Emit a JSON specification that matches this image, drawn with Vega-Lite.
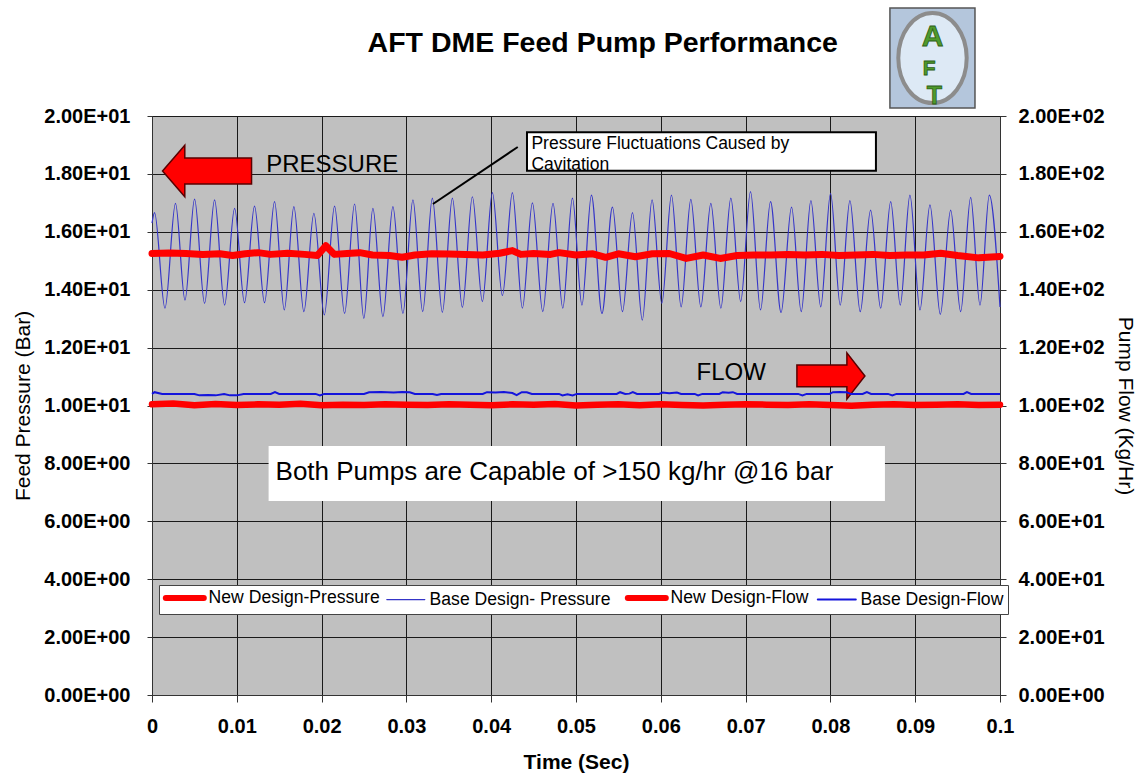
{
  "$schema": "https://vega.github.io/schema/vega-lite/v6.json",
  "width": 848,
  "height": 579,
  "autosize": {"type": "none"},
  "padding": {"left": 152, "top": 116, "right": 143, "bottom": 79},
  "background": "#ffffff",
  "config": {
    "font": "Liberation Sans",
    "view": {"fill": "#c0c0c0", "stroke": "#444444", "strokeWidth": 1}
  },
  "datasets": {
    "lines": [
      {"series": "Base Design- Pressure", "t": 0, "value": 16.3},
      {"series": "Base Design- Pressure", "t": 0.0003, "value": 16.66},
      {"series": "Base Design- Pressure", "t": 0.00153, "value": 13.36},
      {"series": "Base Design- Pressure", "t": 0.00277, "value": 16.98},
      {"series": "Base Design- Pressure", "t": 0.00389, "value": 13.64},
      {"series": "Base Design- Pressure", "t": 0.00502, "value": 17.13},
      {"series": "Base Design- Pressure", "t": 0.0062, "value": 13.53},
      {"series": "Base Design- Pressure", "t": 0.00738, "value": 17.1},
      {"series": "Base Design- Pressure", "t": 0.00856, "value": 13.47},
      {"series": "Base Design- Pressure", "t": 0.00974, "value": 16.81},
      {"series": "Base Design- Pressure", "t": 0.01091, "value": 13.55},
      {"series": "Base Design- Pressure", "t": 0.01209, "value": 16.89},
      {"series": "Base Design- Pressure", "t": 0.01327, "value": 13.55},
      {"series": "Base Design- Pressure", "t": 0.01445, "value": 17.04},
      {"series": "Base Design- Pressure", "t": 0.0156, "value": 13.3},
      {"series": "Base Design- Pressure", "t": 0.01673, "value": 16.87},
      {"series": "Base Design- Pressure", "t": 0.01791, "value": 13.24},
      {"series": "Base Design- Pressure", "t": 0.01909, "value": 16.64},
      {"series": "Base Design- Pressure", "t": 0.02032, "value": 13.13},
      {"series": "Base Design- Pressure", "t": 0.02153, "value": 16.89},
      {"series": "Base Design- Pressure", "t": 0.02271, "value": 13.18},
      {"series": "Base Design- Pressure", "t": 0.02389, "value": 16.96},
      {"series": "Base Design- Pressure", "t": 0.02498, "value": 13.01},
      {"series": "Base Design- Pressure", "t": 0.02605, "value": 16.81},
      {"series": "Base Design- Pressure", "t": 0.02723, "value": 13.07},
      {"series": "Base Design- Pressure", "t": 0.02841, "value": 16.87},
      {"series": "Base Design- Pressure", "t": 0.02959, "value": 13.18},
      {"series": "Base Design- Pressure", "t": 0.03077, "value": 17.1},
      {"series": "Base Design- Pressure", "t": 0.03192, "value": 13.24},
      {"series": "Base Design- Pressure", "t": 0.03306, "value": 17.16},
      {"series": "Base Design- Pressure", "t": 0.03424, "value": 13.22},
      {"series": "Base Design- Pressure", "t": 0.03542, "value": 17.16},
      {"series": "Base Design- Pressure", "t": 0.0366, "value": 13.39},
      {"series": "Base Design- Pressure", "t": 0.03778, "value": 17.21},
      {"series": "Base Design- Pressure", "t": 0.03896, "value": 13.59},
      {"series": "Base Design- Pressure", "t": 0.04014, "value": 17.35},
      {"series": "Base Design- Pressure", "t": 0.04132, "value": 13.8},
      {"series": "Base Design- Pressure", "t": 0.0425, "value": 17.35},
      {"series": "Base Design- Pressure", "t": 0.04368, "value": 13.36},
      {"series": "Base Design- Pressure", "t": 0.04486, "value": 17.0},
      {"series": "Base Design- Pressure", "t": 0.04608, "value": 13.24},
      {"series": "Base Design- Pressure", "t": 0.04729, "value": 16.98},
      {"series": "Base Design- Pressure", "t": 0.04844, "value": 13.36},
      {"series": "Base Design- Pressure", "t": 0.04958, "value": 17.16},
      {"series": "Base Design- Pressure", "t": 0.0507, "value": 13.47},
      {"series": "Base Design- Pressure", "t": 0.05182, "value": 17.27},
      {"series": "Base Design- Pressure", "t": 0.05306, "value": 13.18},
      {"series": "Base Design- Pressure", "t": 0.0543, "value": 16.85},
      {"series": "Base Design- Pressure", "t": 0.05548, "value": 13.24},
      {"series": "Base Design- Pressure", "t": 0.05666, "value": 16.66},
      {"series": "Base Design- Pressure", "t": 0.05782, "value": 12.95},
      {"series": "Base Design- Pressure", "t": 0.05897, "value": 17.1},
      {"series": "Base Design- Pressure", "t": 0.06012, "value": 13.53},
      {"series": "Base Design- Pressure", "t": 0.06126, "value": 17.27},
      {"series": "Base Design- Pressure", "t": 0.0624, "value": 13.41},
      {"series": "Base Design- Pressure", "t": 0.06354, "value": 17.12},
      {"series": "Base Design- Pressure", "t": 0.06472, "value": 13.41},
      {"series": "Base Design- Pressure", "t": 0.0659, "value": 16.98},
      {"series": "Base Design- Pressure", "t": 0.06708, "value": 13.36},
      {"series": "Base Design- Pressure", "t": 0.06826, "value": 17.16},
      {"series": "Base Design- Pressure", "t": 0.06942, "value": 13.59},
      {"series": "Base Design- Pressure", "t": 0.07058, "value": 17.39},
      {"series": "Base Design- Pressure", "t": 0.07176, "value": 13.3},
      {"series": "Base Design- Pressure", "t": 0.07294, "value": 17.04},
      {"series": "Base Design- Pressure", "t": 0.07418, "value": 13.21},
      {"series": "Base Design- Pressure", "t": 0.07542, "value": 16.85},
      {"series": "Base Design- Pressure", "t": 0.07656, "value": 13.24},
      {"series": "Base Design- Pressure", "t": 0.0777, "value": 17.08},
      {"series": "Base Design- Pressure", "t": 0.07886, "value": 13.41},
      {"series": "Base Design- Pressure", "t": 0.08002, "value": 17.33},
      {"series": "Base Design- Pressure", "t": 0.08116, "value": 13.47},
      {"series": "Base Design- Pressure", "t": 0.0823, "value": 17.08},
      {"series": "Base Design- Pressure", "t": 0.08352, "value": 13.24},
      {"series": "Base Design- Pressure", "t": 0.08474, "value": 16.75},
      {"series": "Base Design- Pressure", "t": 0.08593, "value": 13.36},
      {"series": "Base Design- Pressure", "t": 0.08711, "value": 17.04},
      {"series": "Base Design- Pressure", "t": 0.08824, "value": 13.47},
      {"series": "Base Design- Pressure", "t": 0.08938, "value": 17.27},
      {"series": "Base Design- Pressure", "t": 0.09056, "value": 13.3},
      {"series": "Base Design- Pressure", "t": 0.09174, "value": 16.93},
      {"series": "Base Design- Pressure", "t": 0.09296, "value": 13.15},
      {"series": "Base Design- Pressure", "t": 0.09418, "value": 16.75},
      {"series": "Base Design- Pressure", "t": 0.09536, "value": 13.24},
      {"series": "Base Design- Pressure", "t": 0.09654, "value": 17.19},
      {"series": "Base Design- Pressure", "t": 0.09764, "value": 13.47},
      {"series": "Base Design- Pressure", "t": 0.09874, "value": 17.27},
      {"series": "Base Design- Pressure", "t": 0.1, "value": 13.4},

      {"series": "New Design-Pressure", "t": 0, "value": 15.25},
      {"series": "New Design-Pressure", "t": 0.002, "value": 15.27},
      {"series": "New Design-Pressure", "t": 0.004, "value": 15.25},
      {"series": "New Design-Pressure", "t": 0.006, "value": 15.22},
      {"series": "New Design-Pressure", "t": 0.008, "value": 15.24},
      {"series": "New Design-Pressure", "t": 0.0095, "value": 15.18},
      {"series": "New Design-Pressure", "t": 0.011, "value": 15.24},
      {"series": "New Design-Pressure", "t": 0.0125, "value": 15.28},
      {"series": "New Design-Pressure", "t": 0.014, "value": 15.22},
      {"series": "New Design-Pressure", "t": 0.016, "value": 15.26},
      {"series": "New Design-Pressure", "t": 0.018, "value": 15.22},
      {"series": "New Design-Pressure", "t": 0.0195, "value": 15.18},
      {"series": "New Design-Pressure", "t": 0.0205, "value": 15.52},
      {"series": "New Design-Pressure", "t": 0.0215, "value": 15.22},
      {"series": "New Design-Pressure", "t": 0.023, "value": 15.25},
      {"series": "New Design-Pressure", "t": 0.0245, "value": 15.28},
      {"series": "New Design-Pressure", "t": 0.026, "value": 15.2},
      {"series": "New Design-Pressure", "t": 0.028, "value": 15.18},
      {"series": "New Design-Pressure", "t": 0.0295, "value": 15.12},
      {"series": "New Design-Pressure", "t": 0.031, "value": 15.2},
      {"series": "New Design-Pressure", "t": 0.033, "value": 15.24},
      {"series": "New Design-Pressure", "t": 0.035, "value": 15.23},
      {"series": "New Design-Pressure", "t": 0.037, "value": 15.22},
      {"series": "New Design-Pressure", "t": 0.039, "value": 15.2},
      {"series": "New Design-Pressure", "t": 0.041, "value": 15.26},
      {"series": "New Design-Pressure", "t": 0.0425, "value": 15.35},
      {"series": "New Design-Pressure", "t": 0.0435, "value": 15.22},
      {"series": "New Design-Pressure", "t": 0.045, "value": 15.25},
      {"series": "New Design-Pressure", "t": 0.047, "value": 15.22},
      {"series": "New Design-Pressure", "t": 0.048, "value": 15.28},
      {"series": "New Design-Pressure", "t": 0.05, "value": 15.2},
      {"series": "New Design-Pressure", "t": 0.052, "value": 15.24},
      {"series": "New Design-Pressure", "t": 0.0535, "value": 15.12},
      {"series": "New Design-Pressure", "t": 0.055, "value": 15.24},
      {"series": "New Design-Pressure", "t": 0.057, "value": 15.14},
      {"series": "New Design-Pressure", "t": 0.059, "value": 15.24},
      {"series": "New Design-Pressure", "t": 0.061, "value": 15.25},
      {"series": "New Design-Pressure", "t": 0.063, "value": 15.08},
      {"series": "New Design-Pressure", "t": 0.065, "value": 15.2},
      {"series": "New Design-Pressure", "t": 0.067, "value": 15.08},
      {"series": "New Design-Pressure", "t": 0.069, "value": 15.18},
      {"series": "New Design-Pressure", "t": 0.071, "value": 15.2},
      {"series": "New Design-Pressure", "t": 0.073, "value": 15.2},
      {"series": "New Design-Pressure", "t": 0.075, "value": 15.22},
      {"series": "New Design-Pressure", "t": 0.077, "value": 15.2},
      {"series": "New Design-Pressure", "t": 0.079, "value": 15.22},
      {"series": "New Design-Pressure", "t": 0.081, "value": 15.18},
      {"series": "New Design-Pressure", "t": 0.083, "value": 15.2},
      {"series": "New Design-Pressure", "t": 0.085, "value": 15.22},
      {"series": "New Design-Pressure", "t": 0.087, "value": 15.18},
      {"series": "New Design-Pressure", "t": 0.089, "value": 15.2},
      {"series": "New Design-Pressure", "t": 0.091, "value": 15.2},
      {"series": "New Design-Pressure", "t": 0.093, "value": 15.26},
      {"series": "New Design-Pressure", "t": 0.095, "value": 15.18},
      {"series": "New Design-Pressure", "t": 0.0975, "value": 15.1},
      {"series": "New Design-Pressure", "t": 0.1, "value": 15.15},

      {"series": "Base Design-Flow", "t": 0, "value": 104.0},
      {"series": "Base Design-Flow", "t": 0.0003, "value": 104.6},
      {"series": "Base Design-Flow", "t": 0.0012, "value": 104.0},
      {"series": "Base Design-Flow", "t": 0.005, "value": 104.0},
      {"series": "Base Design-Flow", "t": 0.0056, "value": 103.5},
      {"series": "Base Design-Flow", "t": 0.0066, "value": 103.6},
      {"series": "Base Design-Flow", "t": 0.0075, "value": 103.5},
      {"series": "Base Design-Flow", "t": 0.0085, "value": 104.0},
      {"series": "Base Design-Flow", "t": 0.0092, "value": 103.5},
      {"series": "Base Design-Flow", "t": 0.01, "value": 103.5},
      {"series": "Base Design-Flow", "t": 0.0108, "value": 104.0},
      {"series": "Base Design-Flow", "t": 0.014, "value": 104.0},
      {"series": "Base Design-Flow", "t": 0.0145, "value": 104.6},
      {"series": "Base Design-Flow", "t": 0.015, "value": 104.0},
      {"series": "Base Design-Flow", "t": 0.0193, "value": 104.0},
      {"series": "Base Design-Flow", "t": 0.0198, "value": 103.5},
      {"series": "Base Design-Flow", "t": 0.0203, "value": 104.0},
      {"series": "Base Design-Flow", "t": 0.025, "value": 104.0},
      {"series": "Base Design-Flow", "t": 0.0256, "value": 104.6},
      {"series": "Base Design-Flow", "t": 0.027, "value": 104.7},
      {"series": "Base Design-Flow", "t": 0.0285, "value": 104.5},
      {"series": "Base Design-Flow", "t": 0.0295, "value": 104.7},
      {"series": "Base Design-Flow", "t": 0.0304, "value": 104.6},
      {"series": "Base Design-Flow", "t": 0.031, "value": 104.0},
      {"series": "Base Design-Flow", "t": 0.0331, "value": 104.0},
      {"series": "Base Design-Flow", "t": 0.0336, "value": 103.6},
      {"series": "Base Design-Flow", "t": 0.0341, "value": 104.0},
      {"series": "Base Design-Flow", "t": 0.039, "value": 104.0},
      {"series": "Base Design-Flow", "t": 0.0395, "value": 104.6},
      {"series": "Base Design-Flow", "t": 0.0405, "value": 104.5},
      {"series": "Base Design-Flow", "t": 0.0415, "value": 104.7},
      {"series": "Base Design-Flow", "t": 0.0425, "value": 104.3},
      {"series": "Base Design-Flow", "t": 0.043, "value": 103.6},
      {"series": "Base Design-Flow", "t": 0.0436, "value": 104.6},
      {"series": "Base Design-Flow", "t": 0.0442, "value": 104.6},
      {"series": "Base Design-Flow", "t": 0.0448, "value": 104.0},
      {"series": "Base Design-Flow", "t": 0.048, "value": 104.0},
      {"series": "Base Design-Flow", "t": 0.0484, "value": 103.5},
      {"series": "Base Design-Flow", "t": 0.049, "value": 103.9},
      {"series": "Base Design-Flow", "t": 0.0496, "value": 103.5},
      {"series": "Base Design-Flow", "t": 0.0501, "value": 104.0},
      {"series": "Base Design-Flow", "t": 0.0548, "value": 104.0},
      {"series": "Base Design-Flow", "t": 0.0552, "value": 104.6},
      {"series": "Base Design-Flow", "t": 0.0558, "value": 104.0},
      {"series": "Base Design-Flow", "t": 0.0563, "value": 104.1},
      {"series": "Base Design-Flow", "t": 0.0567, "value": 104.6},
      {"series": "Base Design-Flow", "t": 0.0572, "value": 104.0},
      {"series": "Base Design-Flow", "t": 0.0598, "value": 104.0},
      {"series": "Base Design-Flow", "t": 0.0602, "value": 104.5},
      {"series": "Base Design-Flow", "t": 0.061, "value": 104.2},
      {"series": "Base Design-Flow", "t": 0.0619, "value": 104.5},
      {"series": "Base Design-Flow", "t": 0.0624, "value": 104.0},
      {"series": "Base Design-Flow", "t": 0.064, "value": 104.0},
      {"series": "Base Design-Flow", "t": 0.0644, "value": 103.5},
      {"series": "Base Design-Flow", "t": 0.0649, "value": 104.0},
      {"series": "Base Design-Flow", "t": 0.0669, "value": 104.0},
      {"series": "Base Design-Flow", "t": 0.0673, "value": 104.6},
      {"series": "Base Design-Flow", "t": 0.068, "value": 104.4},
      {"series": "Base Design-Flow", "t": 0.0685, "value": 104.6},
      {"series": "Base Design-Flow", "t": 0.069, "value": 104.0},
      {"series": "Base Design-Flow", "t": 0.0762, "value": 104.0},
      {"series": "Base Design-Flow", "t": 0.0767, "value": 103.5},
      {"series": "Base Design-Flow", "t": 0.0772, "value": 104.0},
      {"series": "Base Design-Flow", "t": 0.0799, "value": 104.0},
      {"series": "Base Design-Flow", "t": 0.0803, "value": 104.6},
      {"series": "Base Design-Flow", "t": 0.0811, "value": 104.7},
      {"series": "Base Design-Flow", "t": 0.0819, "value": 104.6},
      {"series": "Base Design-Flow", "t": 0.0824, "value": 104.0},
      {"series": "Base Design-Flow", "t": 0.0838, "value": 104.0},
      {"series": "Base Design-Flow", "t": 0.0843, "value": 104.6},
      {"series": "Base Design-Flow", "t": 0.0848, "value": 104.0},
      {"series": "Base Design-Flow", "t": 0.0868, "value": 104.0},
      {"series": "Base Design-Flow", "t": 0.0873, "value": 103.5},
      {"series": "Base Design-Flow", "t": 0.0878, "value": 104.0},
      {"series": "Base Design-Flow", "t": 0.0957, "value": 104.0},
      {"series": "Base Design-Flow", "t": 0.0961, "value": 104.6},
      {"series": "Base Design-Flow", "t": 0.0966, "value": 104.0},
      {"series": "Base Design-Flow", "t": 0.1, "value": 104.0},

      {"series": "New Design-Flow", "t": 0, "value": 100.4},
      {"series": "New Design-Flow", "t": 0.0025, "value": 100.7},
      {"series": "New Design-Flow", "t": 0.005, "value": 100.1},
      {"series": "New Design-Flow", "t": 0.0075, "value": 100.5},
      {"series": "New Design-Flow", "t": 0.01, "value": 100.2},
      {"series": "New Design-Flow", "t": 0.0125, "value": 100.4},
      {"series": "New Design-Flow", "t": 0.015, "value": 100.3},
      {"series": "New Design-Flow", "t": 0.0175, "value": 100.6},
      {"series": "New Design-Flow", "t": 0.02, "value": 100.1},
      {"series": "New Design-Flow", "t": 0.0225, "value": 100.3},
      {"series": "New Design-Flow", "t": 0.025, "value": 100.2},
      {"series": "New Design-Flow", "t": 0.0275, "value": 100.4},
      {"series": "New Design-Flow", "t": 0.03, "value": 100.3},
      {"series": "New Design-Flow", "t": 0.0325, "value": 100.2},
      {"series": "New Design-Flow", "t": 0.035, "value": 100.4},
      {"series": "New Design-Flow", "t": 0.0375, "value": 100.3},
      {"series": "New Design-Flow", "t": 0.04, "value": 100.1},
      {"series": "New Design-Flow", "t": 0.0425, "value": 100.4},
      {"series": "New Design-Flow", "t": 0.045, "value": 100.3},
      {"series": "New Design-Flow", "t": 0.0475, "value": 100.5},
      {"series": "New Design-Flow", "t": 0.05, "value": 100.0},
      {"series": "New Design-Flow", "t": 0.0525, "value": 100.3},
      {"series": "New Design-Flow", "t": 0.055, "value": 100.4},
      {"series": "New Design-Flow", "t": 0.0575, "value": 100.1},
      {"series": "New Design-Flow", "t": 0.06, "value": 100.4},
      {"series": "New Design-Flow", "t": 0.0625, "value": 100.2},
      {"series": "New Design-Flow", "t": 0.065, "value": 100.0},
      {"series": "New Design-Flow", "t": 0.0675, "value": 100.3},
      {"series": "New Design-Flow", "t": 0.07, "value": 100.4},
      {"series": "New Design-Flow", "t": 0.0725, "value": 100.3},
      {"series": "New Design-Flow", "t": 0.075, "value": 100.2},
      {"series": "New Design-Flow", "t": 0.0775, "value": 100.4},
      {"series": "New Design-Flow", "t": 0.08, "value": 100.2},
      {"series": "New Design-Flow", "t": 0.0825, "value": 99.9},
      {"series": "New Design-Flow", "t": 0.085, "value": 100.3},
      {"series": "New Design-Flow", "t": 0.0875, "value": 100.4},
      {"series": "New Design-Flow", "t": 0.09, "value": 100.2},
      {"series": "New Design-Flow", "t": 0.0925, "value": 100.3},
      {"series": "New Design-Flow", "t": 0.095, "value": 100.4},
      {"series": "New Design-Flow", "t": 0.0975, "value": 100.2},
      {"series": "New Design-Flow", "t": 0.1, "value": 100.3}
    ]
  },
  "encoding": {
    "x": {
      "field": "t",
      "type": "quantitative",
      "scale": {"domain": [0, 0.1], "nice": false},
      "axis": {
        "title": "Time (Sec)",
        "values": [0, 0.01, 0.02, 0.03, 0.04, 0.05, 0.06, 0.07, 0.08, 0.09, 0.1],
        "labelExpr": "'' + datum.value",
        "labelFlush": false,
        "labelOverlap": false,
        "labelFont": "Liberation Sans",
        "labelFontWeight": "bold",
        "labelFontSize": 20,
        "labelColor": "#000000",
        "labelPadding": 14,
        "tickSize": 7,
        "tickColor": "#333333",
        "domainColor": "#333333",
        "grid": true,
        "gridColor": "#1a1a1a",
        "gridWidth": 1,
        "titleFont": "Liberation Sans",
        "titleFontSize": 21,
        "titleFontWeight": "bold",
        "titleColor": "#000000",
        "titlePadding": 15
      }
    }
  },
  "layer": [
    {
      "encoding": {
        "y": {
          "field": "value",
          "type": "quantitative",
          "scale": {"domain": [0, 20], "nice": false},
          "axis": {
            "title": "Feed Pressure (Bar)",
            "values": [0, 2, 4, 6, 8, 10, 12, 14, 16, 18, 20],
            "labelExpr": "datum.value >= 10 ? format(datum.value / 10, '.2f') + 'E+01' : format(datum.value, '.2f') + 'E+00'",
            "labelFont": "Liberation Sans",
            "labelFontWeight": "bold",
            "labelFontSize": 20,
            "labelColor": "#000000",
            "labelPadding": 17,
            "tickSize": 5,
            "tickColor": "#333333",
            "domainColor": "#333333",
            "grid": true,
            "gridColor": "#1a1a1a",
            "gridWidth": 1,
            "titleFont": "Liberation Sans",
            "titleFontSize": 21,
            "titleFontWeight": "normal",
            "titleColor": "#000000",
            "titlePadding": 10
          }
        }
      },
      "layer": [
        {
          "data": {"name": "lines"},
          "transform": [{"filter": "datum.series === 'Base Design- Pressure'"}],
          "mark": {"type": "line", "interpolate": "monotone", "strokeWidth": 1.2},
          "encoding": {
            "color": {
              "field": "series",
              "type": "nominal",
              "scale": {
                "domain": ["New Design-Pressure", "Base Design- Pressure", "New Design-Flow", "Base Design-Flow"],
                "range": ["#ff0000", "#3535c8", "#ff0000", "#1414dc"]
              },
              "legend": {
                "title": null,
                "orient": "none",
                "legendX": 7,
                "legendY": 469,
                "direction": "horizontal",
                "columns": 4,
                "symbolType": "M -3.8 0 L 3.8 0",
                "symbolSize": 100,
                "symbolOffset": 13,
                "labelFont": "Liberation Sans",
                "labelFontSize": 17.6,
                "labelColor": "#000000",
                "labelOffset": 15,
                "labelLimit": 400,
                "columnPadding": 4,
                "padding": 4,
                "fillColor": "#ffffff",
                "strokeColor": "#444444",
                "encode": {
                  "symbols": {
                    "update": {
                      "strokeWidth": {"signal": "(datum.value === 'Base Design- Pressure' ? 1.2 : (datum.value === 'Base Design-Flow' ? 2 : 6))"},
                      "strokeCap": {"value": "round"}
                    }
                  }
                }
              }
            }
          }
        },
        {
          "data": {"name": "lines"},
          "transform": [{"filter": "datum.series === 'New Design-Pressure'"}],
          "mark": {"type": "line", "strokeWidth": 7, "strokeJoin": "round", "strokeCap": "round"},
          "encoding": {
            "color": {"field": "series", "type": "nominal"}
          }
        },
        {
          "data": {"values": [{"t": 0.04422, "t2": 0.08537, "value": 19.44, "value2": 18.11}]},
          "mark": {"type": "rect", "fill": "#ffffff", "stroke": "#000000", "strokeWidth": 2},
          "encoding": {
            "x2": {"field": "t2"},
            "y2": {"field": "value2"}
          }
        },
        {
          "data": {"values": [{"t": 0.04474, "value": 18.85, "label": "Pressure Fluctuations Caused by\nCavitation"}]},
          "mark": {"type": "text", "align": "left", "baseline": "alphabetic", "font": "Liberation Sans", "fontSize": 17.5, "lineHeight": 20.5, "lineBreak": "\n", "color": "#000000"},
          "encoding": {"text": {"field": "label"}}
        },
        {
          "data": {"values": [{"t": 0.04313, "value": 18.93, "t2": 0.03313, "value2": 16.96}]},
          "mark": {"type": "rule", "color": "#000000", "strokeWidth": 2},
          "encoding": {
            "x2": {"field": "t2"},
            "y2": {"field": "value2"}
          }
        },
        {
          "data": {"values": [{"t": 0.01375, "t2": 0.08643, "value": 8.6, "value2": 6.7}]},
          "mark": {"type": "rect", "fill": "#ffffff", "stroke": null},
          "encoding": {
            "x2": {"field": "t2"},
            "y2": {"field": "value2"}
          }
        },
        {
          "data": {"values": [{"t": 0.01457, "value": 7.41, "label": "Both Pumps are Capable of >150 kg/hr @16 bar"}]},
          "mark": {"type": "text", "align": "left", "baseline": "alphabetic", "font": "Liberation Sans", "fontSize": 26, "color": "#000000"},
          "encoding": {"text": {"field": "label"}}
        },
        {
          "data": {"values": [{"t": 0.01347, "value": 18.08, "label": "PRESSURE"}, {"t": 0.06421, "value": 10.88, "label": "FLOW"}]},
          "mark": {"type": "text", "align": "left", "baseline": "alphabetic", "font": "Liberation Sans", "fontSize": 24, "color": "#000000"},
          "encoding": {"text": {"field": "label"}}
        },
        {
          "data": {"values": [{"t": 0.00649, "value": 18.1}]},
          "mark": {"type": "point", "shape": "M -1 0 L -0.5 -0.58 L -0.5 -0.29 L 1 -0.29 L 1 0.29 L -0.5 0.29 L -0.5 0.58 Z", "size": 7921, "filled": true, "fill": "#ff0000", "stroke": "#5a0000", "strokeWidth": 1.5, "opacity": 1}
        },
        {
          "data": {"values": [{"t": 0.08006, "value": 11.02}]},
          "mark": {"type": "point", "shape": "M 1 0 L 0.47 -0.68 L 0.47 -0.32 L -1 -0.32 L -1 0.32 L 0.47 0.32 L 0.47 0.68 Z", "size": 4624, "filled": true, "fill": "#ff0000", "stroke": "#5a0000", "strokeWidth": 1.5, "opacity": 1}
        },
        {
          "data": {"values": [{"t": 0.05316, "value": 22.21, "label": "AFT DME Feed Pump Performance"}]},
          "mark": {"type": "text", "align": "center", "baseline": "alphabetic", "font": "Liberation Sans", "fontSize": 28.5, "fontWeight": "bold", "color": "#000000"},
          "encoding": {"text": {"field": "label"}}
        },
        {
          "data": {"values": [{"t": 0.08702, "t2": 0.09705, "value": 23.73, "value2": 20.28}]},
          "mark": {"type": "rect", "fill": "#b4c6dc", "stroke": "#555555", "strokeWidth": 1.5},
          "encoding": {
            "x2": {"field": "t2"},
            "y2": {"field": "value2"}
          }
        },
        {
          "data": {"values": [{"t": 0.09204, "value": 22.0}]},
          "mark": {"type": "point", "shape": "M 0 -1 A 0.76 1 0 1 0 0 1 A 0.76 1 0 1 0 0 -1 Z", "size": 8100, "filled": true, "fill": "#dde9f5", "stroke": "#8c8c8c", "strokeWidth": 4, "opacity": 1}
        },
        {
          "data": {"values": [
            {"t": 0.09204, "value": 22.42, "label": "A", "size": 30},
            {"t": 0.09165, "value": 21.42, "label": "F", "size": 21},
            {"t": 0.09225, "value": 20.43, "label": "T", "size": 25}
          ]},
          "mark": {"type": "text", "align": "center", "baseline": "alphabetic", "font": "Liberation Sans", "fontWeight": "bold", "color": "#4f9a2c", "stroke": "#2d5e18", "strokeWidth": 0.8},
          "encoding": {
            "text": {"field": "label"},
            "size": {"field": "size", "type": "quantitative", "scale": null, "legend": null}
          }
        }
      ]
    },
    {
      "encoding": {
        "y": {
          "field": "value",
          "type": "quantitative",
          "scale": {"domain": [0, 200], "nice": false},
          "axis": {
            "orient": "right",
            "title": "Pump Flow (Kg/Hr)",
            "values": [0, 20, 40, 60, 80, 100, 120, 140, 160, 180, 200],
            "labelExpr": "datum.value >= 100 ? format(datum.value / 100, '.2f') + 'E+02' : datum.value >= 10 ? format(datum.value / 10, '.2f') + 'E+01' : format(datum.value, '.2f') + 'E+00'",
            "labelFont": "Liberation Sans",
            "labelFontWeight": "bold",
            "labelFontSize": 20,
            "labelColor": "#000000",
            "labelPadding": 12,
            "tickSize": 6,
            "tickColor": "#333333",
            "domainColor": "#333333",
            "grid": false,
            "titleFont": "Liberation Sans",
            "titleFontSize": 21,
            "titleFontWeight": "normal",
            "titleColor": "#000000",
            "titlePadding": 10
          }
        }
      },
      "layer": [
        {
          "data": {"name": "lines"},
          "transform": [{"filter": "datum.series === 'Base Design-Flow'"}],
          "mark": {"type": "line", "strokeWidth": 2},
          "encoding": {
            "color": {"field": "series", "type": "nominal"}
          }
        },
        {
          "data": {"name": "lines"},
          "transform": [{"filter": "datum.series === 'New Design-Flow'"}],
          "mark": {"type": "line", "strokeWidth": 6.5, "strokeJoin": "round", "strokeCap": "round"},
          "encoding": {
            "color": {"field": "series", "type": "nominal"}
          }
        }
      ]
    }
  ],
  "resolve": {"scale": {"y": "independent"}}
}
